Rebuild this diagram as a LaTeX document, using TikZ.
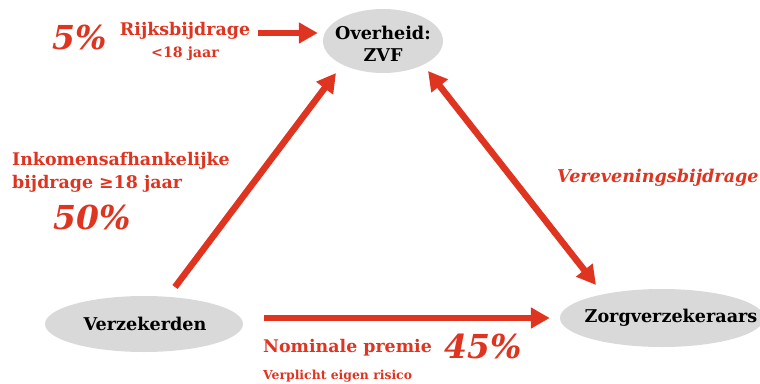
\documentclass[tikz,border=0pt]{standalone}
\usepackage{fontspec}
\setmainfont{DejaVu Serif}
\usetikzlibrary{arrows.meta,shapes.geometric}
\definecolor{zvfred}{RGB}{222,52,32}
\definecolor{zvfgray}{RGB}{217,217,217}
\begin{document}
\begin{tikzpicture}[x=1pt,y=-1pt,
    blob/.style={ellipse, fill=zvfgray, inner sep=0pt},
    party/.style={inner sep=0pt, font=\bfseries\fontsize{17.6}{22}\selectfont},
    redlabel/.style={text=zvfred, inner sep=0pt, font=\bfseries\fontsize{17.4}{23}\selectfont},
    share/.style={text=zvfred, inner sep=0pt, font=\bfseries\itshape\fontsize{33}{36}\selectfont},
    flow/.style={draw=zvfred, line width=6.5pt, -{Triangle[length=19pt,width=20pt]}},
    flowboth/.style={flow, {Triangle[length=19pt,width=20pt]}-{Triangle[length=19pt,width=20pt]}}]
    \useasboundingbox (0,0) rectangle (760,383);
    \clip (0,0) rectangle (760,383);
    
    % Marking the three parties by ellipses
    \node [blob, minimum width=120pt, minimum height=64pt] (ovhblob) at (383,41) {};%
    \node [party, align=center] (ovh) at (383,44) {Overheid:\\ZVF};%
    \node [blob, minimum width=198pt, minimum height=56pt] (verzblob) at (144,324) {};%
    \node [party] (verz) at (145,324) {Verzekerden};%
    \node [blob, minimum width=204pt, minimum height=58pt] (zorgblob) at (662,318) {};%
    \node [party] (zorg) at (671,318) {Zorgverzekeraars};%
    
    % Marking the labels
    \node [share] (p5) at (80,37) {5\%};%
    \node [redlabel, align=center, font=\bfseries\fontsize{17.4}{22}\selectfont] (rijks) at (185,41) {Rijksbijdrage\\{\fontsize{14.2}{16}\selectfont <18 jaar}};%
    \node [redlabel, anchor=west, align=left] (inkomen) at (12,172) {Inkomensafhankelijke\\bijdrage ≥18 jaar};%
    \node [share] (p50) at (92,217) {50\%};%
    \node [redlabel, anchor=west, font=\bfseries\itshape\fontsize{17.6}{20}\selectfont] (vereven) at (557,178) {Vereveningsbijdrage};%
    \node [redlabel, anchor=west] (nominaal) at (263,348) {Nominale premie};%
    \node [share] (p45) at (483,346) {45\%};%
    \node [redlabel, anchor=west, font=\bfseries\fontsize{12.4}{14}\selectfont] (eigen) at (263,376) {Verplicht eigen risico};%
    
    % Free ends of the arrows
    \coordinate (rijksend) at (258,33);%
    \coordinate (verztop) at (175,287);%
    \coordinate (ovhleft) at (336,73);%
    \coordinate (ovhright) at (428,71);%
    \coordinate (zorgtop) at (596,285);%
    
    % Drawing the arrows
    \draw [flow] (rijksend) -- ([xshift=-5pt]ovhblob.west |- rijksend);%
    \draw [flow] (verztop) -- (ovhleft);%
    \draw [flowboth] (ovhright) -- (zorgtop);%
    \draw [flow] (verzblob.east |- zorg) ++(21,0) -- ([xshift=-10pt]zorgblob.west);%
\end{tikzpicture}
\end{document}
